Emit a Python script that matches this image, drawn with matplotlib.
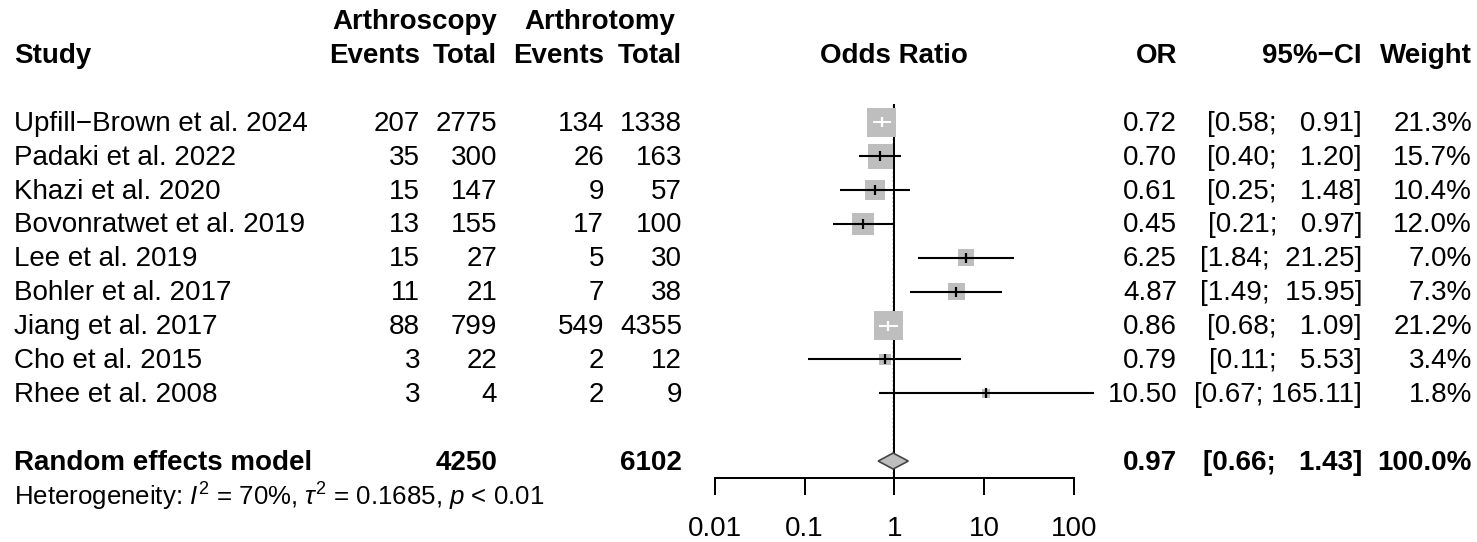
import numpy as np
import matplotlib
matplotlib.use("Agg")
import matplotlib.pyplot as plt
from matplotlib.patches import Polygon

plt.rcParams['font.family'] = ['Liberation Sans', 'DejaVu Sans']
plt.rcParams['mathtext.fontset'] = 'custom'
plt.rcParams['mathtext.rm'] = 'Liberation Sans'
plt.rcParams['mathtext.it'] = 'Liberation Sans:italic'
plt.rcParams['mathtext.bf'] = 'Liberation Sans:bold'

# ---------------- data ----------------
studies = ["Upfill\u2212Brown et al. 2024", "Padaki et al. 2022", "Khazi et al. 2020",
           "Bovonratwet et al. 2019", "Lee et al. 2019", "Bohler et al. 2017",
           "Jiang et al. 2017", "Cho et al. 2015", "Rhee et al. 2008"]
scope_events = [207, 35, 15, 13, 15, 11, 88, 3, 3]
scope_total = [2775, 300, 147, 155, 27, 21, 799, 22, 4]
tomy_events = [134, 26, 9, 17, 5, 7, 549, 2, 2]
tomy_total = [1338, 163, 57, 100, 30, 38, 4355, 12, 9]
odds_ratio = [0.72, 0.70, 0.61, 0.45, 6.25, 4.87, 0.86, 0.79, 10.50]
ci_lower = [0.58, 0.40, 0.25, 0.21, 1.84, 1.49, 0.68, 0.11, 0.67]
ci_upper = [0.91, 1.20, 1.48, 0.97, 21.25, 15.95, 1.09, 5.53, 165.11]
weights = [21.3, 15.7, 10.4, 12.0, 7.0, 7.3, 21.2, 3.4, 1.8]

pooled_or = 0.97
pooled_lower = 0.66
pooled_upper = 1.43
pooled_weight = 100.0
pooled_scope_total = 4250
pooled_tomy_total = 6102
xticks = [0.01, 0.1, 1, 10, 100]
xtick_labels = ["0.01", "0.1", "1", "10", "100"]
het_text = r"Heterogeneity: $\mathit{I}^2$ = 70%, $\tau^2$ = 0.1685, $\mathit{p}$ < 0.01"

# ---------------- layout ----------------
W, H = 1477, 542
DPI = 100
fig = plt.figure(figsize=(W / DPI, H / DPI), dpi=DPI)
bg = fig.add_axes([0, 0, 1, 1])
bg.set_xlim(0, W)
bg.set_ylim(H, 0)
bg.axis('off')

FS = 20
FS_HET = 18.6
y0 = 122.3
rh = 33.875
rows_y = [y0 + i * rh for i in range(len(studies))]
y_pooled = y0 + (len(studies) + 1) * rh
y_het = y_pooled + rh
y_head2 = y0 - 2 * rh
y_head1 = y0 - 3 * rh
dy = 1.5

x_study = 14
x_se, x_st, x_te, x_tt = 420, 497, 604, 682
x_or, x_ci, x_w = 1177, 1362, 1472

def t(x, y, s, ha='right', bold=False, size=FS):
    bg.text(x, y + dy, s, ha=ha, va='center', fontsize=size,
            fontweight='bold' if bold else 'normal', color='black')

# headers
t(414.5, y_head1, "Arthroscopy", ha='center', bold=True)
t(599.5, y_head1, "Arthrotomy", ha='center', bold=True)
t(x_study, y_head2, "Study", ha='left', bold=True)
t(x_se, y_head2, "Events", bold=True)
t(x_st, y_head2, "Total", bold=True)
t(x_te, y_head2, "Events", bold=True)
t(x_tt, y_head2, "Total", bold=True)
t(894.3, y_head2, "Odds Ratio", ha='center', bold=True)
t(x_or, y_head2, "OR", bold=True)
t(x_ci, y_head2, "95%\u2212CI", bold=True)
t(x_w, y_head2, "Weight", bold=True)

def fmt2(v):
    return f"{v:.2f}"

lw_len = max(len(fmt2(v)) for v in ci_lower + [pooled_lower])
up_len = max(len(fmt2(v)) for v in ci_upper + [pooled_upper])

def ci_str(lo, up):
    return "[" + fmt2(lo).rjust(lw_len) + "; " + fmt2(up).rjust(up_len) + "]"

for i, y in enumerate(rows_y):
    t(x_study, y, studies[i], ha='left')
    t(x_se, y, str(scope_events[i]))
    t(x_st, y, str(scope_total[i]))
    t(x_te, y, str(tomy_events[i]))
    t(x_tt, y, str(tomy_total[i]))
    t(x_or, y, fmt2(odds_ratio[i]))
    t(x_ci, y, ci_str(ci_lower[i], ci_upper[i]))
    t(x_w, y, f"{weights[i]:.1f}%")

t(x_study, y_pooled, "Random effects model", ha='left', bold=True)
t(x_st, y_pooled, str(pooled_scope_total), bold=True)
t(x_tt, y_pooled, str(pooled_tomy_total), bold=True)
t(x_or, y_pooled, fmt2(pooled_or), bold=True)
t(x_ci, y_pooled, ci_str(pooled_lower, pooled_upper), bold=True)
t(x_w, y_pooled, f"{pooled_weight:.1f}%", bold=True)
t(x_study, y_het, het_text, ha='left', size=FS_HET)

# ---------------- forest panel ----------------
px_left, px_right = 714.7, 1074.0
ax = fig.add_axes([px_left / W, 0, (px_right - px_left) / W, 1])
ax.set_xscale('log')
ax.set_xlim(0.01, 100)
ax.set_ylim(H, 0)
ax.patch.set_alpha(0)
for s in ['top', 'left', 'right']:
    ax.spines[s].set_visible(False)
y_axis = 477.7
ax.spines['bottom'].set_position(('data', y_axis))
ax.spines['bottom'].set_linewidth(1.44)
ax.set_xticks(xticks)
ax.set_xticklabels(xtick_labels)
ax.minorticks_off()
ax.tick_params(axis='x', direction='out', length=12.3, width=1.44,
               labelsize=FS, pad=15.5)
ax.set_yticks([])

y_top_line = 105
ax.plot([1, 1], [y_top_line, y_axis], color='black', lw=1.44, zorder=1)
ax.plot([pooled_or, pooled_or], [y_top_line, y_axis], color='black', lw=1.0,
        ls=(0, (1, 2)), zorder=1)

full_side = 29.0  # px for max weight
max_w = max(weights)
px_per_dec = (px_right - px_left) / 4.0
for i, y in enumerate(rows_y):
    side = full_side * np.sqrt(weights[i] / max_w)
    ax.scatter([odds_ratio[i]], [y], marker='s', s=(side * 0.72) ** 2,
               color='#bebebe', edgecolors='none', zorder=2)
    lo_px = px_per_dec * abs(np.log10(ci_lower[i] / odds_ratio[i]))
    up_px = px_per_dec * abs(np.log10(ci_upper[i] / odds_ratio[i]))
    inside = max(lo_px, up_px) < side / 2
    col = 'white' if inside else 'black'
    ax.plot([ci_lower[i], ci_upper[i]], [y, y], color=col, lw=1.5,
            zorder=3, clip_on=False, solid_capstyle='butt')
    ax.plot([odds_ratio[i]], [y], marker='|', color=col, markersize=6.5,
            mew=1.6, zorder=4)

dh = 8
diamond = Polygon([[pooled_lower, y_pooled], [pooled_or, y_pooled - dh],
                   [pooled_upper, y_pooled], [pooled_or, y_pooled + dh]],
                  closed=True, facecolor='#bebebe', edgecolor='#444444',
                  lw=1.2, zorder=3)
ax.add_patch(diamond)

fig.savefig("out.png", dpi=DPI)
